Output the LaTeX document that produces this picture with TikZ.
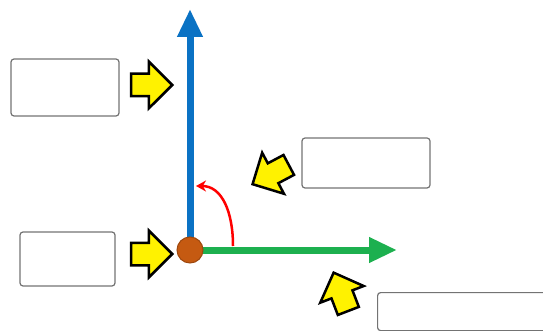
\documentclass[tikz,border=0pt]{standalone}
\usepackage{tikz}
\usetikzlibrary{arrows.meta,positioning,shapes}

\definecolor{axisblue}{HTML}{0A72C4}
\definecolor{axisgreen}{HTML}{1DB04F}
\definecolor{pointbrown}{HTML}{C55A11}

\begin{document}
\begin{tikzpicture}[x=1pt,y=-1pt]
	\tikzstyle{rect}=[draw=black!55, rounded corners=3pt, line width=1.2pt, inner sep=0pt]
	\tikzstyle{yarrow}=[draw, single arrow, fill=yellow, line width=2.5pt, inner xsep=8pt, inner ysep=10pt, single arrow head extend=12pt, minimum height=41pt, anchor=tip]
	\tikzstyle{axis}=[line width=7pt, -{Triangle[width=24pt,length=28pt]}]

	\useasboundingbox (0,0) rectangle (543,331);
	\clip (0,0) rectangle (543,331);

	% axes
	\coordinate (ytip) at (190,9);
	\coordinate (xtip) at (397,250);
	\draw[axis, axisblue] (190,250) -- (ytip);
	\draw[axis, axisgreen] (190,250) -- (xtip);
	\node[circle, draw=pointbrown!80!black, fill=pointbrown, line width=1pt, minimum size=26pt, inner sep=0pt] (origin) at (190,250) {};

	% angle
	\coordinate (arcstart) at (233,246);
	\coordinate (arcend) at (196,186);
	\draw[red, line width=2.5pt, -{Stealth[length=10pt,width=11pt]}] (arcstart) .. controls (233,212) and (222,186) .. (arcend);

	% empty label boxes
	\node[rect, minimum width=108pt, minimum height=57pt] (ybox) at (65,87.5) {};
	\node[rect, minimum width=95pt, minimum height=54pt] (obox) at (67.5,259) {};
	\node[rect, minimum width=128pt, minimum height=50pt] (abox) at (366,163) {};
	\node[rect, minimum width=180pt, minimum height=38pt, anchor=north west] (xbox) at (377,292) {};

	% pointers
	\node[yarrow] (yptr) at (174,85) {};
	\node[yarrow] (optr) at (174,254) {};
	\node[yarrow, rotate=208] (aptr) at (251,185) {};
	\node[yarrow, rotate=111] (xptr) at (333,271) {};
\end{tikzpicture}
\end{document}
